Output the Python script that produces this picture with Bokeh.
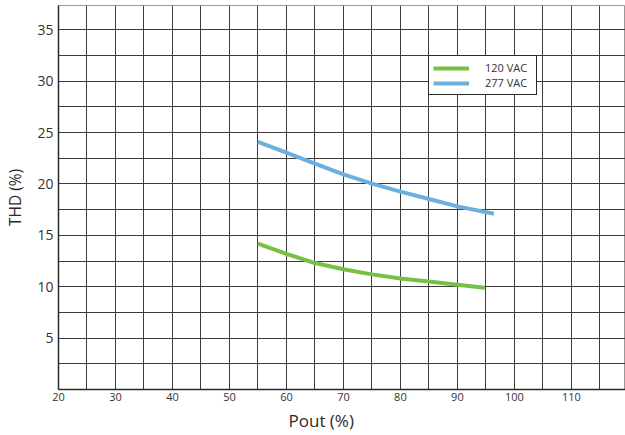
import math
from bokeh.plotting import figure
from bokeh.models import FixedTicker, Range1d, Legend, LegendItem, Title
from bokeh.embed import file_html
from bokeh.resources import INLINE

# ---- data ----
pout_120 = [55, 60, 65, 70, 75, 80, 85, 90, 94.8]
thd_120 = [14.2, 13.2, 12.3, 11.7, 11.2, 10.8, 10.5, 10.2, 9.9]
pout_277 = [55, 60, 65, 70, 75, 80, 85, 90, 96.4]
thd_277 = [24.1, 23.05, 21.97, 20.93, 20.03, 19.25, 18.53, 17.82, 17.1]
series_names = ["120 VAC", "277 VAC"]
x_major = [20, 30, 40, 50, 60, 70, 80, 90, 100, 110]
x_minor = [25, 35, 45, 55, 65, 75, 85, 95, 105, 115]
y_major = [5, 10, 15, 20, 25, 30, 35]
y_minor = [2.5, 7.5, 12.5, 17.5, 22.5, 27.5, 32.5]
x_title = "Pout (%)"
y_title = "THD (%)"

FONT = "Open Sans"
GREEN = "#78c043"
BLUE = "#6cb0e0"
GRID = "#3c3c3c"

p = figure(width=625, height=435, output_backend="svg", toolbar_location=None,
           x_range=Range1d(20, 119.5), y_range=Range1d(0, 37.36),
           min_border_left=58, min_border_right=0, min_border_top=5,
           min_border_bottom=46)
p.background_fill_color = "white"
p.border_fill_color = "white"
p.outline_line_color = "#999999"

# axes
p.xaxis.ticker = FixedTicker(ticks=x_major, minor_ticks=x_minor)
p.yaxis.ticker = FixedTicker(ticks=y_major, minor_ticks=y_minor)
for ax in (p.xaxis, p.yaxis):
    ax.major_tick_line_color = None
    ax.minor_tick_line_color = None
    ax.major_tick_out = 0
    ax.major_tick_in = 0
    ax.minor_tick_out = 0
    ax.minor_tick_in = 0
    ax.axis_line_color = "#2a2a2a"
    ax.axis_line_width = 1.5
    ax.major_label_text_font = FONT
    ax.major_label_text_color = "#333333"
p.xaxis.major_label_text_font_size = "11px"
p.xaxis.major_label_standoff = 3
p.yaxis.major_label_text_font_size = "14px"
p.yaxis.major_label_standoff = 5
p.yaxis.axis_label = y_title
p.yaxis.axis_label_text_font = FONT
p.yaxis.axis_label_text_font_size = "15.5px"
p.yaxis.axis_label_text_font_style = "normal"
p.yaxis.axis_label_text_color = "#2a2a2a"
p.yaxis.axis_label_standoff = 8

# grid
for g in (p.xgrid, p.ygrid):
    g.grid_line_color = GRID
    g.grid_line_width = 1
    g.minor_grid_line_color = GRID
    g.minor_grid_line_width = 1

r120 = p.line(pout_120, thd_120, line_color=GREEN, line_width=4)
r277 = p.line(pout_277, thd_277, line_color=BLUE, line_width=4)

legend = Legend(items=[LegendItem(label=series_names[0], renderers=[r120]),
                       LegendItem(label=series_names[1], renderers=[r277])],
                location=(370, 294))
legend.border_line_color = "#2a2a2a"
legend.border_line_alpha = 1
legend.border_line_width = 1.5
legend.background_fill_color = "white"
legend.background_fill_alpha = 1
legend.padding = 4
legend.spacing = 0
legend.margin = 0
legend.glyph_width = 36
legend.glyph_height = 12
legend.label_height = 12
legend.label_width = 47
legend.label_standoff = 16
legend.label_text_font = FONT
legend.label_text_font_size = "11px"
legend.label_text_color = "#333333"
p.add_layout(legend, "center")

xt = Title(text=x_title, align="left", offset=230, text_font=FONT,
           text_font_size="17px", text_font_style="normal", text_color="#2a2a2a",
           standoff=7)
p.add_layout(xt, "below")

open("out.html", "w").write(file_html(p, INLINE))
